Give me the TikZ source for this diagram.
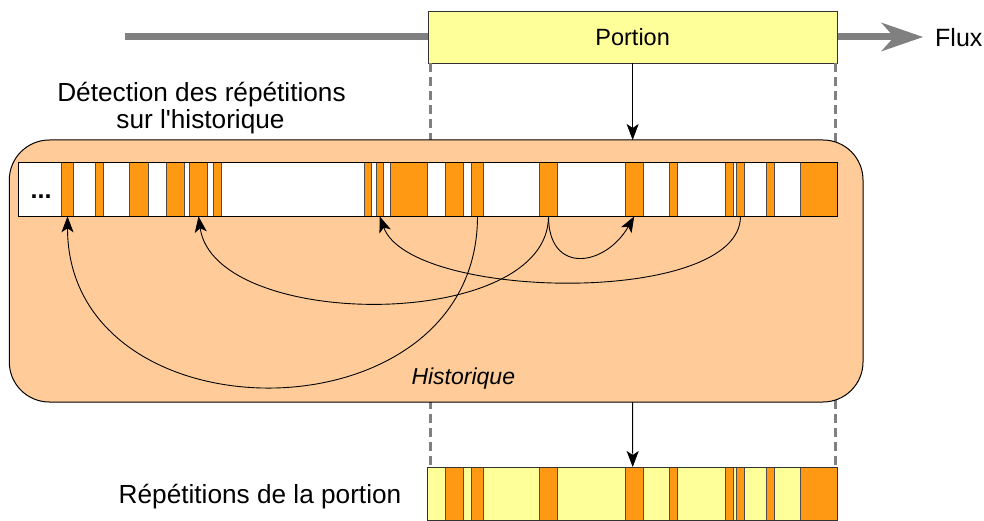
\documentclass[tikz,border=0pt]{standalone}
\usepackage{fontspec}
\setmainfont{Liberation Sans}
\usetikzlibrary{arrows.meta,calc}
\definecolor{orng}{HTML}{FF9914}
\definecolor{peach}{HTML}{FFCC99}
\definecolor{yel}{HTML}{FFFF99}
\definecolor{fluxgray}{HTML}{808080}
\begin{document}
\begin{tikzpicture}[x=1pt,y=-1pt,
  blk/.style={draw=black!70, line width=0.9pt, fill=orng, inner sep=0pt, outer sep=0pt},
  conn/.style={draw=black, line width=0.9pt, -{Stealth[length=16pt,width=12pt,inset=4pt]}},
  guide/.style={draw=fluxgray, line width=3pt, dash pattern=on 9pt off 5pt},
  lbl/.style={font=\fontsize{25}{30}\selectfont, inner sep=0pt},
  biglbl/.style={font=\fontsize{26.2}{30}\selectfont, inner sep=0pt},
  frame/.style={draw=black, line width=1.3pt}
]
\useasboundingbox (0,0) rectangle (984,521);

% flux
\coordinate (fstart) at (125,37);
\coordinate (fend) at (923,37);
\draw[fluxgray, line width=7pt, -{Stealth[length=42pt,width=29pt,inset=13pt,line width=0pt]}] (fstart) -- (fend);
\node[lbl, anchor=base west] (flux) at (935,46.7) {Flux};

% portion
\node[draw=black!80, fill=yel, line width=1pt, minimum width=409.3pt, minimum height=52pt,
      inner sep=0pt, outer sep=0pt, font=\fontsize{23.5}{28}\selectfont] (portion) at (632.65,37.5) {Portion};

% bottom bar
\node[fill=yel, inner sep=0pt, outer sep=0pt, minimum width=410pt, minimum height=53.3pt] (rep) at (632.7,493.7) {};
\foreach \a/\b [count=\i] in {445/463.3, 471.7/483.3, 539.3/557.7, 625.3/643.3, 669.3/677.3, 725.3/733.3, 736.7/744.3, 766/774, 800.7/837.3}
  \node[blk, minimum width={(\b-\a)*1pt}, minimum height=53.3pt] (r\i) at ({(\a+\b)/2},493.7) {};
\draw[draw=black!80, line width=1.1pt] (rep.north west) rectangle (rep.south east);

% guides
\draw[guide] ([xshift=2pt]portion.south west) -- ([xshift=2pt]portion.south west |- rep.north);
\draw[guide] ([xshift=-2pt]portion.south east) -- ([xshift=-2pt]portion.south east |- rep.north);

% history container
\node[draw=black, fill=peach, rounded corners=40pt, line width=1pt, minimum width=853.7pt,
      minimum height=262pt, inner sep=0pt, outer sep=0pt] (histo) at (436.15,271) {};
\node[font=\fontsize{23}{28}\selectfont\itshape, inner sep=0pt, anchor=base] (histlbl) at (463.3,384) {Historique};

% history bar
\node[fill=white, inner sep=0pt, outer sep=0pt, minimum width=819pt, minimum height=53.6pt] (hist) at (427.8,189.5) {};
\foreach \a/\b [count=\i] in {61.7/73.3, 95.7/103.3, 129.3/148.3, 166.7/184.3, 189.3/207.7, 213.7/221.3, 364.3/371.7, 376/383.3, 390.7/427.7, 445/463.3, 471.7/483.3, 539.3/557.7, 625.3/643.3, 669.3/677.3, 725.3/733.3, 736.7/744.3, 766/774, 800.7/837.3}
  \node[blk, minimum width={(\b-\a)*1pt}, minimum height=53.6pt] (h\i) at ({(\a+\b)/2},189.5) {};
\draw[frame] (hist.north west) rectangle (hist.south east);
\node[font=\fontsize{25}{28}\selectfont\bfseries, inner sep=0pt, anchor=base west] (dots) at (30.5,198.5) {...};

% labels
\node[biglbl, anchor=base] (det1) at (201.5,101.7) {Détection des répétitions};
\node[biglbl, anchor=base] (det2) at (200.5,129) {sur l\textquotesingle historique};
\node[biglbl, anchor=base] (replbl) at (260,503.3) {Répétitions de la portion};

% vertical arrows
\draw[conn] (portion.south) -- (portion.south |- histo.north);
\draw[conn] (portion.south |- histo.south) -- (rep.north);

% repetition arcs
\draw[conn] (h11.south) to[out=-90,in=-90,looseness=1.42] (h1.south);
\draw[conn] (h12.south) to[out=-90,in=-82,looseness=0.85] (h5.south);
\draw[conn] (h16.south) to[out=-90,in=-70,looseness=0.64] (h8.south);
\draw[conn] (h12.south) to[out=-90,in=-120,looseness=1.75] (h13.south);
\end{tikzpicture}
\end{document}
